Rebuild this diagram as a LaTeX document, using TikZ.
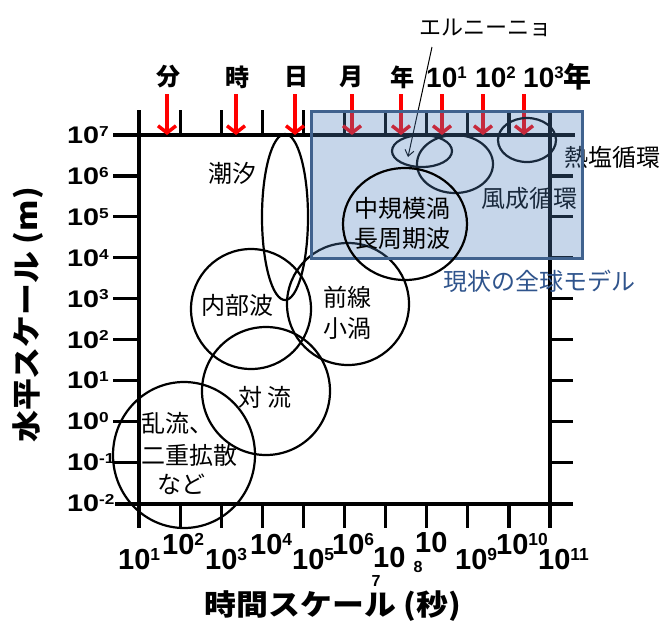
\documentclass[tikz,border=0pt]{standalone}
\usepackage{fontspec}
\usetikzlibrary{arrows.meta}
\newfontfamily\jp{Noto Sans CJK JP}
\newfontfamily\jpw{Noto Sans CJK JP}[FakeStretch=1.1]
\newfontfamily\ar{Liberation Sans}
\newfontfamily\arw{Liberation Sans}[FakeStretch=1.2]
\definecolor{boxfill}{RGB}{79,129,189}
\definecolor{boxedge}{RGB}{64,98,142}
\definecolor{modelblue}{RGB}{47,84,140}
\newcommand\ex[1]{\raisebox{0.3em}{\scalebox{0.6}{#1}}}
\begin{document}
\begin{tikzpicture}[x=1pt,y=-1pt,
  axis/.style={line width=3.2pt},
  ell/.style={line width=2.2pt},
  redarrow/.style={red,line width=3.5pt,-{Straight Barb[length=7pt,width=18pt]}},
  jlabel/.style={font=\jp\fontsize{24}{26}\selectfont, inner sep=0pt},
  toplabel/.style={font=\jp\bfseries\fontsize{24}{26}\selectfont, inner sep=0pt},
  topnum/.style={font=\ar\bfseries\fontsize{28}{30}\selectfont, inner sep=0pt, anchor=base west},
  ynum/.style={font=\arw\bfseries\fontsize{24}{26}\selectfont, inner sep=0pt, anchor=base west},
  xnum/.style={font=\ar\bfseries\fontsize{29}{31}\selectfont, inner sep=0pt, anchor=base west},
  xsub/.style={font=\ar\bfseries\fontsize{16}{18}\selectfont, inner sep=0pt},
  title/.style={font=\jpw\bfseries\fontsize{29}{31}\selectfont, inner sep=0pt},
  modelbox/.style={draw=boxedge, line width=3pt, fill=boxfill, fill opacity=0.32}
]
\useasboundingbox (0,0) rectangle (665,622);

% axes
\draw[axis] (113,135) -- (575,135);
\draw[axis] (115,504) -- (573,504);
\draw[axis] (139,110) -- (139,528);
\draw[axis] (550,110) -- (550,528);
\foreach \i in {1,...,9}{
  \draw[axis] ({139+41.1*\i},110) -- ({139+41.1*\i},135);
  \draw[axis] ({139+41.1*\i},504) -- ({139+41.1*\i},528);
}
\foreach \j in {1,...,8}{
  \draw[axis] (113,{135+40.9*\j}) -- (139,{135+40.9*\j});
  \draw[axis] (550,{135+40.9*\j}) -- (573,{135+40.9*\j});
}

% y labels
\foreach \j/\t in {0/7,1/6,2/5,3/4,4/3,5/2,6/1,7/0,8/-1,9/-2}{
  \node[ynum] (y\j) at (67,{135+40.9*\j+8.5}) {10\ex{\t}};
}

% x labels
\node[xnum] (x1) at (118,569.5) {10\ex{1}};
\node[xnum] (x2) at (162,554.5) {10\ex{2}};
\node[xnum] (x3) at (205,569.5) {10\ex{3}};
\node[xnum] (x4) at (250,554.5) {10\ex{4}};
\node[xnum] (x5) at (292,569.5) {10\ex{5}};
\node[xnum] (x6) at (332,554.5) {10\ex{6}};
\node[xnum] (x7) at (373,567.5) {10};
\node[xsub] (x7s) at (376,581) {7};
\node[xnum] (x8) at (415,552) {10};
\node[xsub] (x8s) at (418,567) {8};
\node[xnum] (x9) at (455,569.5) {10\ex{9}};
\node[xnum] (x10) at (496,554.5) {10\ex{10}};
\node[xnum] (x11) at (538,569.5) {10\ex{11}};

% titles
\node[title] (xt) at (333,606) {時間スケール (秒)};
\node[title, rotate=90] (yt) at (28,315) {水平スケール (m)};

% top labels and arrows
\node[toplabel] (tmin) at (168,77) {分};
\node[toplabel] (thour) at (237,77) {時};
\node[toplabel] (tday) at (296,77) {日};
\node[toplabel] (tmon) at (351,77) {月};
\node[toplabel] (tyear) at (402,77) {年};
\node[topnum] (t1) at (426,87) {10\ex{1}};
\node[topnum] (t2) at (475,87) {10\ex{2}};
\node[topnum] (t3) at (523,87) {10\ex{3}{\jp\bfseries 年}};
\foreach \n/\x in {a/167,b/236,c/295,d/352,e/401,f/442,g/483,h/524}{
  \coordinate (s\n) at (\x,94);
  \coordinate (e\n) at (\x,135);
  \draw[redarrow] (s\n) -- (e\n);
}

% scale ellipses (under the model box)
\draw[ell] (184,455) ellipse [x radius=71pt, y radius=73pt];
\draw[ell] (266,391) circle [radius=64pt];
\draw[ell] (251,309) circle [radius=60pt];
\draw[ell] (285,217) ellipse [x radius=23pt, y radius=83pt];
\draw[ell] (348,304) circle [radius=61pt];
\draw[ell] (422,151) ellipse [x radius=30pt, y radius=16pt];
\draw[ell] (455,164) ellipse [x radius=38pt, y radius=29pt];
\draw[ell] (527,140) ellipse [x radius=29pt, y radius=22pt];

% labels
\node[jlabel] (tide) at (232,173) {潮汐};
\node[jlabel] (iw) at (237,305) {内部波};
\node[jlabel] (conv) at (265,397) {対\ 流};
\node[jlabel, anchor=west] (turb1) at (141,423) {乱流、};
\node[jlabel, anchor=west] (turb2) at (141,455) {二重拡散};
\node[jlabel] (turb3) at (181,484) {など};
\node[jlabel] (front1) at (347,297) {前線};
\node[jlabel] (front2) at (347,328) {小渦};
\node[jlabel] (wind) at (529,198) {風成循環};
\node[jlabel] (thc) at (612,157) {熱塩循環};
\node[jlabel, font=\jp\fontsize{22}{24}\selectfont] (enso) at (485,28) {エルニーニョ};
\coordinate (ensoA) at (432,47);
\coordinate (ensoB) at (408,157);
\draw[line width=1pt, -{Straight Barb[length=6pt,width=9pt]}] (ensoA) -- (ensoB);

% model box
\draw[modelbox] (311,111) rectangle (582,258);
\node[jlabel, text=modelblue] (model) at (539,281) {現状の全球モデル};

% mesoscale eddy circle above the box
\draw[ell] (405,224) ellipse [x radius=62pt, y radius=56pt];
\node[jlabel] (meso1) at (402,208) {中規模渦};
\node[jlabel] (meso2) at (402,238) {長周期波};
\end{tikzpicture}
\end{document}
